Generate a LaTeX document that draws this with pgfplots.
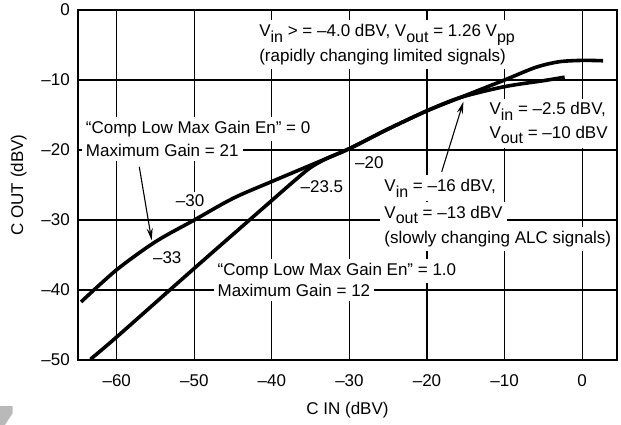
\documentclass[border=0pt]{standalone}
\usepackage{fontspec}
\setmainfont{Liberation Sans}
\usepackage{pgfplots}
\pgfplotsset{compat=1.18}
\usetikzlibrary{arrows.meta}
\newcommand{\bigfont}{\fontsize{17bp}{20bp}\selectfont}
\tikzset{
  lab/.style={fill=white, inner sep=4bp, anchor=base west, font=\bigfont},
  num/.style={fill=white, inner sep=3bp, anchor=base, font=\bigfont},
}
\newcommand{\sub}[1]{\raisebox{-5.5bp}{\fontsize{16bp}{16bp}\selectfont #1}}
\begin{document}
\bigfont
\begin{tikzpicture}
\begin{axis}[
  at={(0,0)}, anchor=south west,
  scale only axis, width=539bp, height=350bp,
  xmin=-65, xmax=4.5, ymin=-50, ymax=0,
  xtick={-60,-50,...,0}, ytick={-50,-40,...,0},
  xticklabels={–60,–50,–40,–30,–20,–10,0},
  yticklabels={–50,–40,–30,–20,–10,0},
  grid=major, major grid style={black, line width=1.1bp},
  axis line style={black, line width=1.4bp},
  major tick length=0pt,
  tick label style={font=\bigfont, inner sep=0pt},
  xticklabel style={anchor=base, yshift=-26bp},
  yticklabel style={anchor=east, xshift=-8bp},
  xlabel={C IN (dBV)}, ylabel={C OUT (dBV)},
  label style={font=\bigfont},
  xlabel style={at={(axis description cs:0.5,-0.1557)}, anchor=base},
  ylabel style={at={(axis description cs:-0.102,0.5)}, anchor=base},
  clip=false,
]
% labels (white boxes hide the grid)
\node[lab] at (axis cs:-42.16,-3.81) {V\sub{in} > = –4.0 dBV, V\sub{out} = 1.26 V\sub{pp}};
\node[lab] at (axis cs:-42.16,-7.39) {(rapidly changing limited signals)};
\node[lab] at (axis cs:-64.52,-17.61) {“Comp Low Max Gain En” = 0};
\node[lab] at (axis cs:-64.52,-20.96) {Maximum Gain = 21};
\node[num] at (axis cs:-50.55,-28.1) {–30};
\node[num] at (axis cs:-33.55,-26.14) {–23.5};
\node[num] at (axis cs:-27.43,-22.61) {–20};
\node[lab] at (axis cs:-12.48,-15.0) {V\sub{in} = –2.5 dBV,};
\node[lab] at (axis cs:-12.48,-18.33) {V\sub{out} = –10 dBV};
\node[lab] at (axis cs:-26.03,-25.96) {V\sub{in} = –16 dBV,};
\node[lab] at (axis cs:-26.03,-29.76) {V\sub{out} = –13 dBV};
\node[lab] at (axis cs:-26.03,-33.33) {(slowly changing ALC signals)};
\node[num] at (axis cs:-53.49,-36.19) {–33};
\node[lab] at (axis cs:-47.54,-37.86) {“Comp Low Max Gain En” = 1.0};
\node[lab] at (axis cs:-47.54,-40.96) {Maximum Gain = 12};
% curve: Comp Low Max Gain En = 0 (Maximum Gain = 21), upper branch
\addplot[black, line width=3.6bp, smooth] coordinates {
 (-64.6,-41.7) (-60,-37.1) (-55,-33.1) (-50,-30.0)
 (-45,-26.9) (-40,-24.5) (-34,-21.7) (-30,-19.8) (-25,-17.0) (-20,-14.4)
 (-15.7,-12.5) (-10,-10.0) (-6,-8.2) (-3,-7.4) (0,-7.2) (2.7,-7.25)};
% curve: Comp Low Max Gain En = 1.0 (Maximum Gain = 12), lower branch
\addplot[black, line width=3.6bp, smooth] coordinates {
 (-63.4,-49.9) (-60,-46.7) (-50,-36.9) (-40,-27.2) (-37,-24.3) (-35,-22.5)
 (-33,-21.25) (-30,-19.8) (-25,-17.0) (-20,-14.4) (-15.7,-12.5)
 (-10,-10.95) (-5,-10.1) (-2.25,-9.6)};
% arrows
\draw[line width=1.1bp, -{Stealth[length=12bp, width=6bp]}] (axis cs:-57.1,-22.4) -- (axis cs:-55.5,-32.9);
\draw[line width=1.1bp, -{Stealth[length=12bp, width=6bp]}] (axis cs:-18.1,-23.1) -- (axis cs:-15.3,-13.1);
\end{axis}
\fill[gray!55] (-78bp,-46bp) -- (-65.3bp,-46bp) -- (-65.3bp,-53bp) -- (-73bp,-65bp) -- (-78bp,-65bp) -- cycle;
\pgfresetboundingbox
\path[use as bounding box] (-78bp,-65bp) rectangle (543bp,360bp);
\end{tikzpicture}
\end{document}
